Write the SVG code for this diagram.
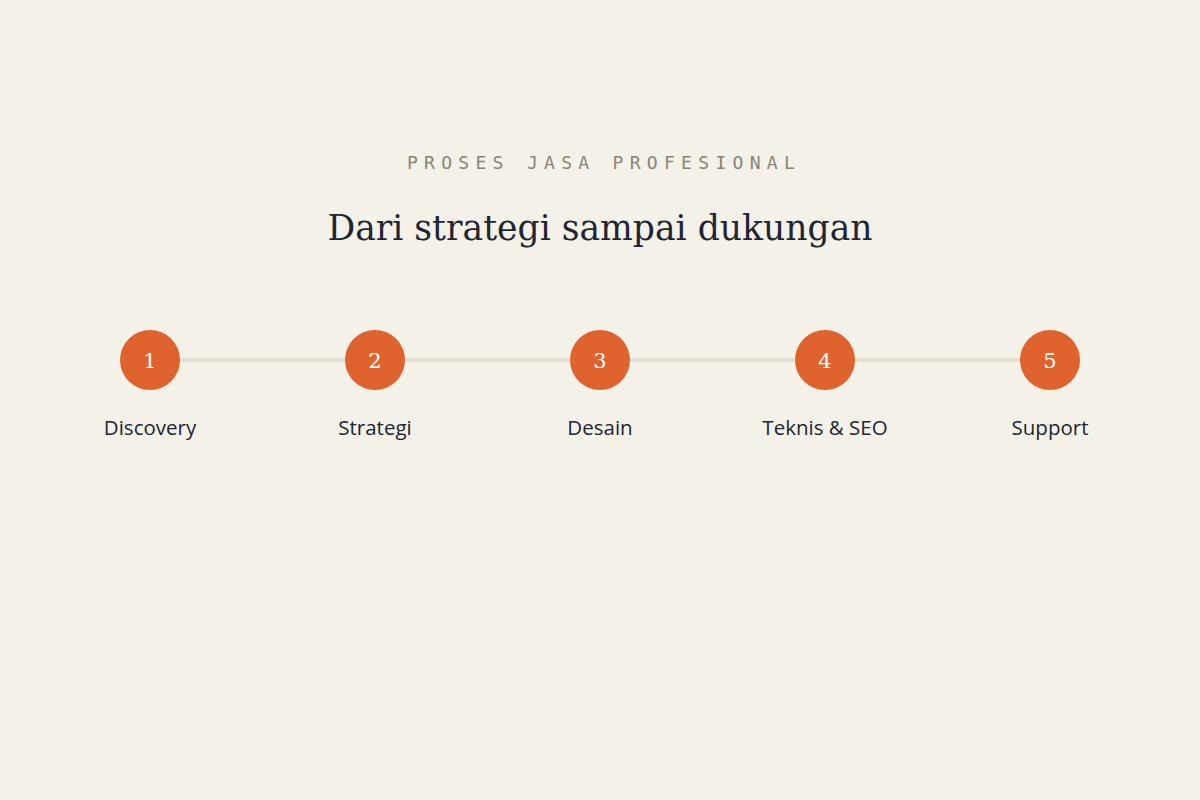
<svg xmlns="http://www.w3.org/2000/svg" width="1200" height="800" viewBox="0 0 1200 800">
<style>
.kicker{font-family:"DejaVu Sans Mono","Liberation Mono",monospace;font-size:18px;letter-spacing:6.3px;fill:#8a8577;text-anchor:middle}
.title{font-family:"DejaVu Serif","Liberation Serif",serif;font-size:34.6px;fill:#1e2533;text-anchor:middle}
.dot{fill:#e0622d}
.num{font-family:"DejaVu Serif","Liberation Serif",serif;font-size:21px;fill:#ffffff;text-anchor:middle}
.lbl{font-family:"Open Sans","Noto Sans",sans-serif;font-size:20.5px;fill:#1e2533;text-anchor:middle}
.conn{stroke:#e3dfd2;stroke-width:4;fill:none}
</style>
<rect width="1200" height="800" fill="#f4f1e9"/>
<text class="kicker" x="604" y="169">PROSES JASA PROFESIONAL</text>
<text class="title" x="600" y="240">Dari strategi sampai dukungan</text>
<g id="connectors">
<line class="conn" x1="150" y1="360" x2="375" y2="360"/>
<line class="conn" x1="375" y1="360" x2="600" y2="360"/>
<line class="conn" x1="600" y1="360" x2="825" y2="360"/>
<line class="conn" x1="825" y1="360" x2="1050" y2="360"/>
</g>
<g id="step1"><circle class="dot" cx="150" cy="360" r="30"/><text class="num" x="150" y="368">1</text><text class="lbl" x="150" y="435">Discovery</text></g>
<g id="step2"><circle class="dot" cx="375" cy="360" r="30"/><text class="num" x="375" y="368">2</text><text class="lbl" x="375" y="435">Strategi</text></g>
<g id="step3"><circle class="dot" cx="600" cy="360" r="30"/><text class="num" x="600" y="368">3</text><text class="lbl" x="600" y="435">Desain</text></g>
<g id="step4"><circle class="dot" cx="825" cy="360" r="30"/><text class="num" x="825" y="368">4</text><text class="lbl" x="825" y="435">Teknis &amp; SEO</text></g>
<g id="step5"><circle class="dot" cx="1050" cy="360" r="30"/><text class="num" x="1050" y="368">5</text><text class="lbl" x="1050" y="435">Support</text></g>
</svg>
